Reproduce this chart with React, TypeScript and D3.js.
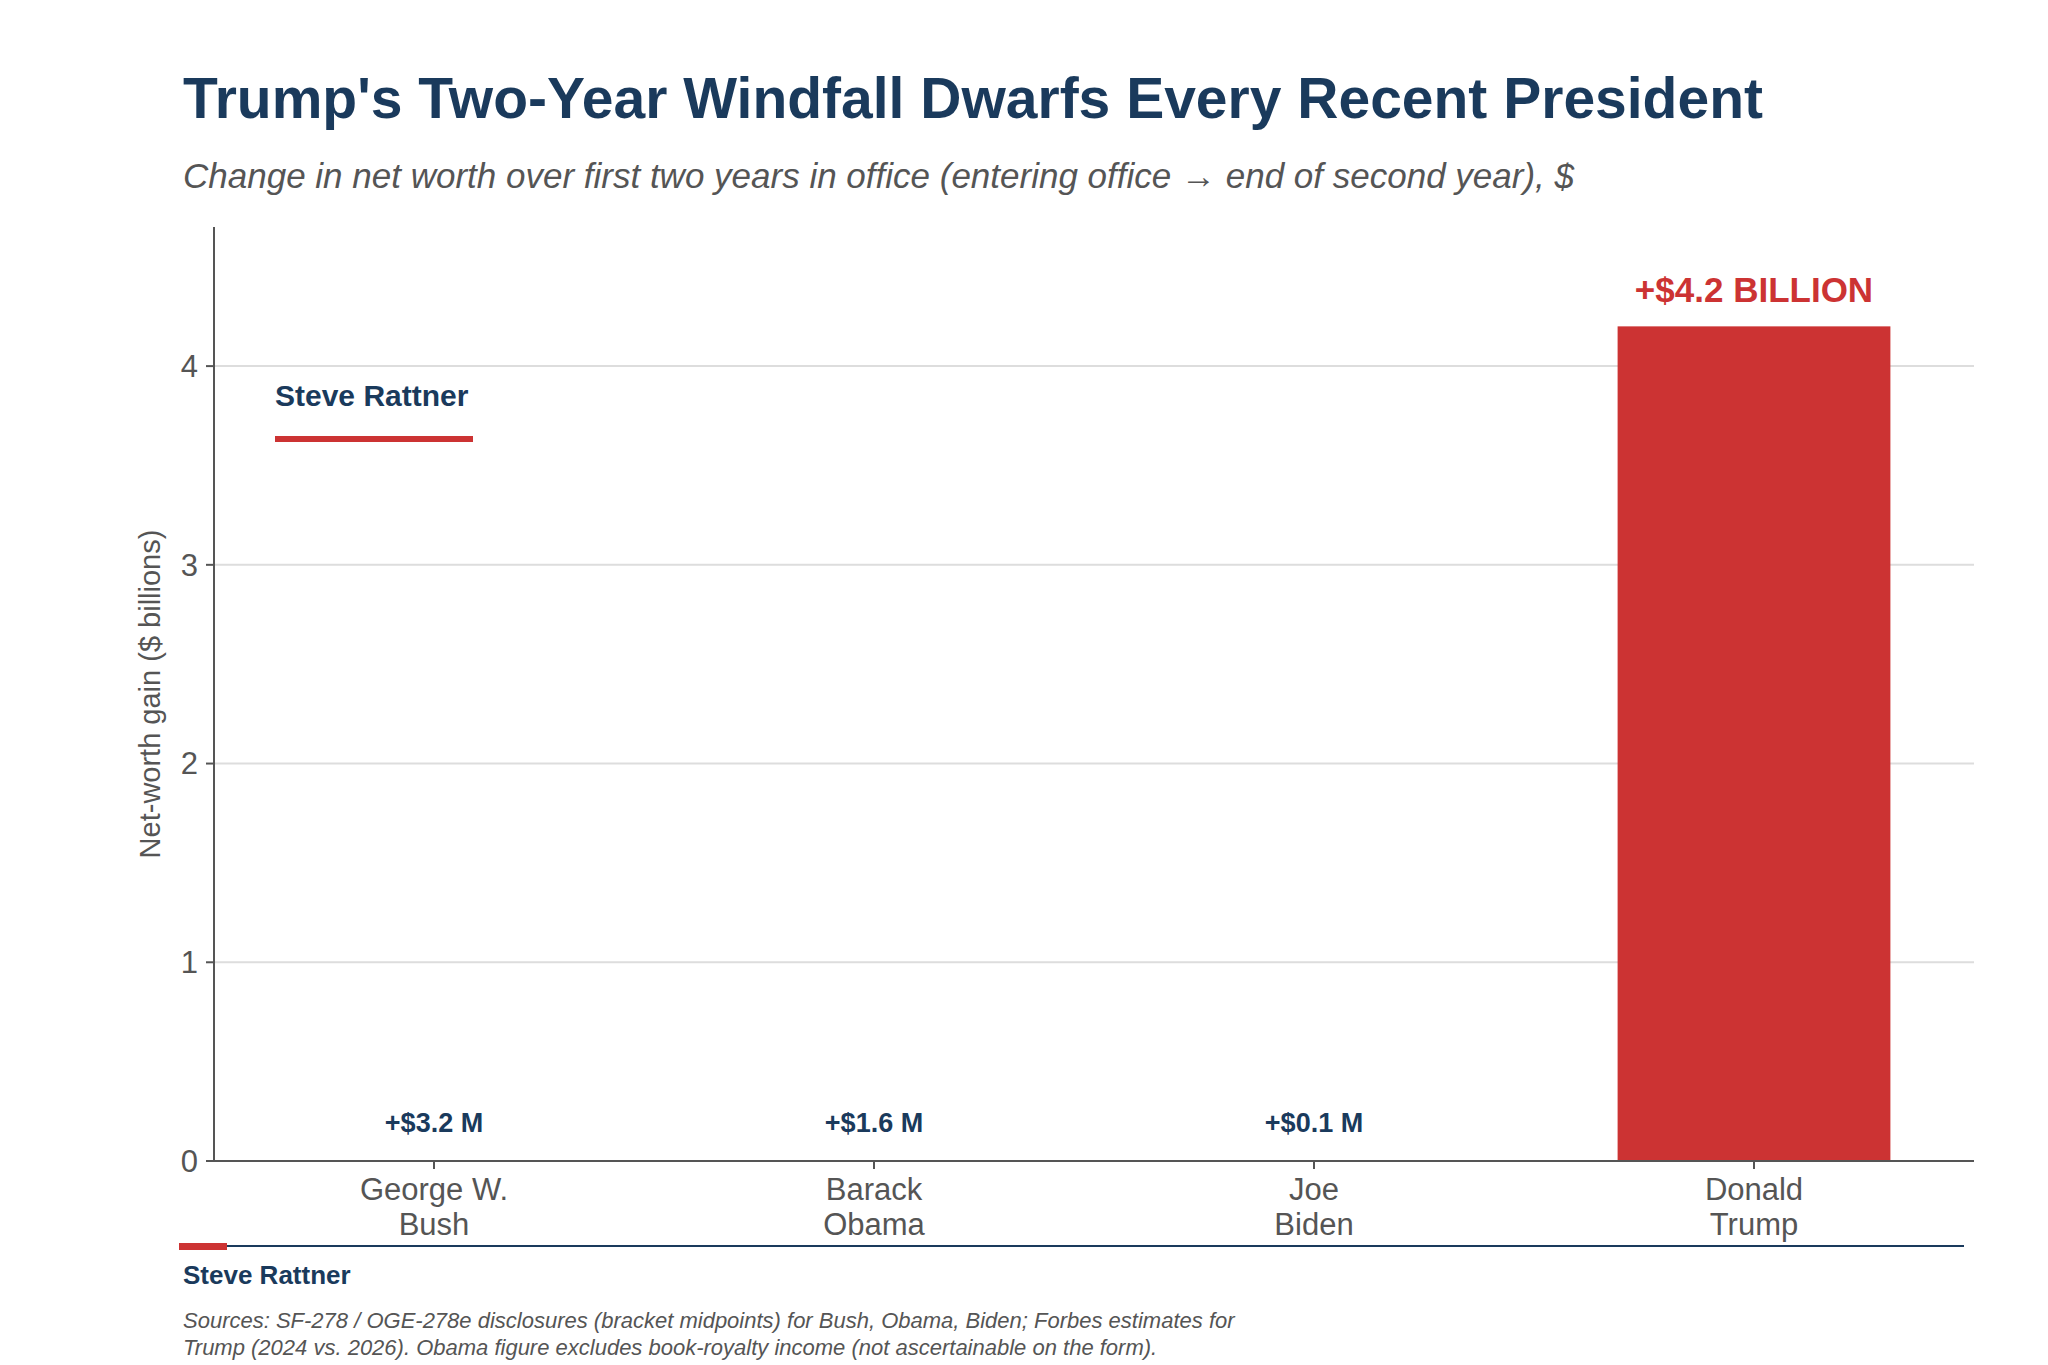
import React from "react";
import * as d3 from "d3";

const presidents = ["George W.|Bush", "Barack|Obama", "Joe|Biden", "Donald|Trump"];
const gains = [0.0032, 0.0016, 0.0001, 4.2];
const valueLabels = ["+$3.2 M", "+$1.6 M", "+$0.1 M", "+$4.2 BILLION"];
const yTicks = [0, 1, 2, 3, 4];

const W = 2048, H = 1365;
const NAVY = "#1a3a5c", RED = "#cc3333", GREY = "#555";
const FONT = "'Liberation Sans', Arial, sans-serif";

export default function App() {
  const x = d3.scaleBand<string>().domain(presidents).range([206, 1966]).paddingInner(0.38).paddingOuter(0.19);
  const y = d3.scaleLinear().domain([0, 4.7]).range([1153, 219]);
  const last = presidents.length - 1;

  return (
    <svg width={W} height={H} style={{ display: "block", background: "#fff", fontFamily: FONT }}>
      <text x={175} y={110} fontSize={57} fontWeight="bold" fill={NAVY}>
        Trump's Two-Year Windfall Dwarfs Every Recent President
      </text>
      <text x={175} y={180} fontSize={35} fontStyle="italic" fill={GREY}>
        Change in net worth over first two years in office (entering office → end of second year), $
      </text>

      {yTicks.map((t) => (
        <g key={t}>
          {t > 0 && <line x1={206} x2={1966} y1={y(t)} y2={y(t)} stroke="#dddddd" strokeWidth={2} />}
          <line x1={198} x2={206} y1={y(t)} y2={y(t)} stroke={GREY} strokeWidth={2} />
          <text x={190} y={y(t)} dy="0.35em" textAnchor="end" fontSize={31} fill={GREY}>{t}</text>
        </g>
      ))}

      {presidents.map((p, i) => {
        const bx = x(p)!;
        const top = y(gains[i]);
        const cx = bx + x.bandwidth() / 2;
        const isBig = i === last;
        return (
          <g key={p}>
            <rect x={bx} y={Math.min(top, 1152)} width={x.bandwidth()} height={Math.max(1153 - top, 1)}
              fill={isBig ? RED : "#888"} />
            <text x={cx} y={isBig ? top - 24 : 1124} textAnchor="middle" fontWeight="bold"
              fontSize={isBig ? 35 : 27} fill={isBig ? RED : NAVY}>{valueLabels[i]}</text>
            <line x1={cx} x2={cx} y1={1153} y2={1161} stroke={GREY} strokeWidth={2} />
            {p.split("|").map((s, j) => (
              <text key={j} x={cx} y={1192 + j * 35} textAnchor="middle" fontSize={31} fill={GREY}>{s}</text>
            ))}
          </g>
        );
      })}

      <line x1={206} x2={206} y1={219} y2={1153} stroke={GREY} strokeWidth={2} />
      <line x1={206} x2={1966} y1={1153} y2={1153} stroke={GREY} strokeWidth={2} />

      <text transform={`translate(152,686) rotate(-90)`} textAnchor="middle" fontSize={29} fill={GREY}>
        Net-worth gain ($ billions)
      </text>

      <text x={267} y={398} fontSize={30} fontWeight="bold" fill={NAVY}>Steve Rattner</text>
      <rect x={267} y={428} width={198} height={6} fill={RED} />

      <line x1={171} x2={1956} y1={1238} y2={1238} stroke={NAVY} strokeWidth={2} />
      <rect x={171} y={1235} width={48} height={7} fill={RED} />
      <text x={175} y={1276} fontSize={26} fontWeight="bold" fill={NAVY}>Steve Rattner</text>
      <text x={175} y={1320} fontSize={22} fontStyle="italic" fill={GREY}>
        Sources: SF-278 / OGE-278e disclosures (bracket midpoints) for Bush, Obama, Biden; Forbes estimates for
      </text>
      <text x={175} y={1347} fontSize={22} fontStyle="italic" fill={GREY}>
        Trump (2024 vs. 2026). Obama figure excludes book-royalty income (not ascertainable on the form).
      </text>
    </svg>
  );
}
